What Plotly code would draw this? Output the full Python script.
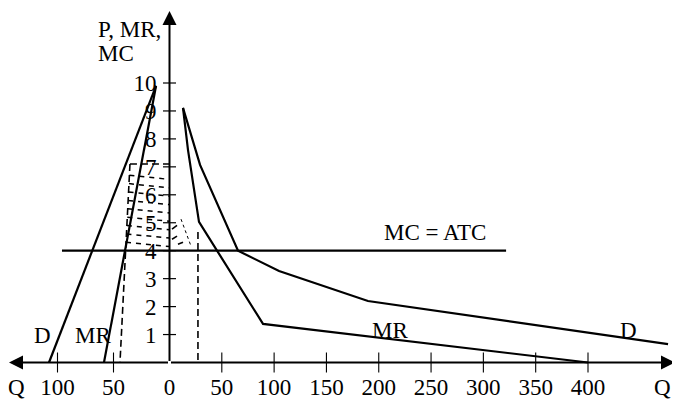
import plotly.graph_objects as go

# ---------------- data ----------------
# Left market (quantities grow to the left)
left_D_q = [12.0, 107.6]
left_D_p = [9.9, 0.0]
left_MR_q = [12.0, 58.5]
left_MR_p = [9.9, 0.0]
left_Qstar_q = [35.3, 44.2]      # dashed (slightly slanted) quantity line
left_Qstar_p = [7.1, 0.0]
left_Pstar = 7.1                 # dashed price line
left_hatch_levels = [4.3, 4.6, 4.9, 5.2, 5.5, 5.8, 6.1, 6.4, 6.7]

# Right market
right_D_q = [12.9, 29.2, 65.5, 104.7, 189.7, 476.5]
right_D_p = [9.11, 7.07, 4.0, 3.27, 2.20, 0.66]
right_MR_q = [12.9, 17.7, 28.2, 89.4, 400.0]
right_MR_p = [9.11, 7.60, 5.03, 1.38, 0.0]
right_Qstar_q = [27.2, 27.2]
right_Qstar_p = [4.67, 0.0]
right_hatch_q = [[2.4, 7.2], [2.4, 7.2], [8.1, 12.9]]
right_hatch_p = [[4.77, 4.91], [4.41, 4.52], [4.23, 4.30]]
right_dot_q = [11.0, 20.6]
right_dot_p = [5.13, 4.16]

MC = 4.0
mc_left_q = [96.0, 0.0]
mc_right_q = [0.0, 321.7]

y_ticks = [1, 2, 3, 4, 5, 6, 7, 8, 9, 10]
left_xticks = [50, 100]
right_xticks = [0, 50, 100, 150, 200, 250, 300, 350, 400]

# ---------------- geometry ----------------
# the page body adds an 8px margin, so the figure is drawn 8px smaller
OFF = 8
W, H = 680 - OFF, 400 - OFF
Y0_PX = 362.5 - OFF    # pixel row of P = 0 (in figure pixels)
PX_PER_P = 27.95
AX_PX = 169.5 - OFF    # pixel column of the price axis
PX_PER_Q_L = 1.12
PX_PER_Q_R = 1.04625

y_range = [-(H - Y0_PX) / PX_PER_P, Y0_PX / PX_PER_P]
xl_range = [AX_PX / PX_PER_Q_L, 0]
xr_range = [0, (W - AX_PX) / PX_PER_Q_R]
split = AX_PX / W

FONT = "Liberation Serif"
FS = 23
LW = 2.2

fig = go.Figure()

def line(q, p, axis, dash=None, width=LW):
    fig.add_trace(go.Scatter(x=q, y=p, xaxis=axis, yaxis="y", mode="lines",
                             line=dict(color="black", width=width, dash=dash),
                             hoverinfo="skip", showlegend=False))

# left market curves
line(left_D_q, left_D_p, "x")
line(left_MR_q, left_MR_p, "x")
line(left_Qstar_q, left_Qstar_p, "x", dash="7px,4px", width=1.6)
line([left_Qstar_q[0], 0], [left_Pstar, left_Pstar], "x", dash="7px,4px", width=1.6)
for lv in left_hatch_levels:
    qstart = left_Qstar_q[0] + (left_Qstar_q[1] - left_Qstar_q[0]) * (left_Qstar_p[0] - lv) / left_Qstar_p[0]
    line([qstart, 0], [lv, lv - 0.15], "x", dash="5px,5px", width=1.5)

# right market curves
line(right_D_q, right_D_p, "x2")
line(right_MR_q, right_MR_p, "x2")
line(right_Qstar_q, right_Qstar_p, "x2", dash="7px,4px", width=1.6)
for hq, hp in zip(right_hatch_q, right_hatch_p):
    line(hq, hp, "x2", width=1.6)
line(right_dot_q, right_dot_p, "x2", dash="dot", width=1.0)

# MC = ATC
line(mc_left_q, [MC, MC], "x")
line(mc_right_q, [MC, MC], "x2")

shapes = []
for t in y_ticks:
    shapes.append(dict(type="line", xref="paper", yref="y",
                       x0=(AX_PX - 6.5) / W, x1=(AX_PX + 6.5) / W, y0=t, y1=t,
                       line=dict(color="black", width=1.2)))
th = 10 / PX_PER_P
for t in left_xticks:
    shapes.append(dict(type="line", xref="x", yref="y", x0=t, x1=t, y0=-th, y1=th,
                       line=dict(color="black", width=1.1)))
for t in right_xticks[1:]:
    shapes.append(dict(type="line", xref="x2", yref="y", x0=t, x1=t, y0=-th, y1=th,
                       line=dict(color="black", width=1.1)))

annotations = []
arrow = dict(text="", showarrow=True, arrowhead=2, arrowsize=1.4, arrowwidth=2,
             arrowcolor="black", standoff=0, startstandoff=0)
annotations.append(dict(arrow, xref="x2", yref="y", axref="x2", ayref="y",
                        x=0, y=(Y0_PX - (11 - OFF)) / PX_PER_P, ax=0, ay=0))
annotations.append(dict(arrow, xref="x2", yref="y", axref="x2", ayref="y",
                        x=((675 - OFF) - AX_PX) / PX_PER_Q_R, y=0, ax=0, ay=0))
annotations.append(dict(arrow, xref="x", yref="y", axref="x", ayref="y",
                        x=(AX_PX - (9 - OFF)) / PX_PER_Q_L, y=0, ax=0, ay=0))

def label(txt, px, py, xanchor="center"):
    # px, py are page pixels
    annotations.append(dict(text=txt, showarrow=False, xref="paper", yref="paper",
                            x=(px - OFF) / W, y=1 - (py - OFF) / H,
                            xanchor=xanchor, yanchor="middle",
                            font=dict(family=FONT, size=FS, color="black")))

label("P, MR,", 96, 29, "left")
label("MC", 96, 54, "left")
label("D", 42, 335)
label("MR", 93, 335)
label("MR", 390, 330)
label("D", 628, 330)
label("MC = ATC", 435, 232)
label("Q", 16, 387)
label("Q", 662, 387)

axis_font = dict(family=FONT, size=FS, color="black")
common = dict(showgrid=False, zeroline=False, showline=False, ticks="",
              tickfont=axis_font, automargin=False)
fig.update_layout(
    width=W, height=H,
    margin=dict(l=0, r=0, t=0, b=0, pad=0, autoexpand=False),
    paper_bgcolor="white", plot_bgcolor="white",
    showlegend=False,
    xaxis=dict(common, domain=[0, split], range=xl_range, anchor="free",
               position=(H - Y0_PX) / H, ticklabelstandoff=8,
               tickvals=left_xticks, ticktext=[str(v) for v in left_xticks]),
    xaxis2=dict(common, domain=[split, 1], range=xr_range, anchor="free",
                position=(H - Y0_PX) / H, ticklabelstandoff=8,
                tickvals=right_xticks, ticktext=[str(v) for v in right_xticks]),
    yaxis=dict(common, domain=[0, 1], range=y_range, anchor="x2",
               ticklabelstandoff=12,
               tickvals=y_ticks, ticktext=[str(v) for v in y_ticks]),
    shapes=shapes,
    annotations=annotations,
)

fig.write_html("out.html")
